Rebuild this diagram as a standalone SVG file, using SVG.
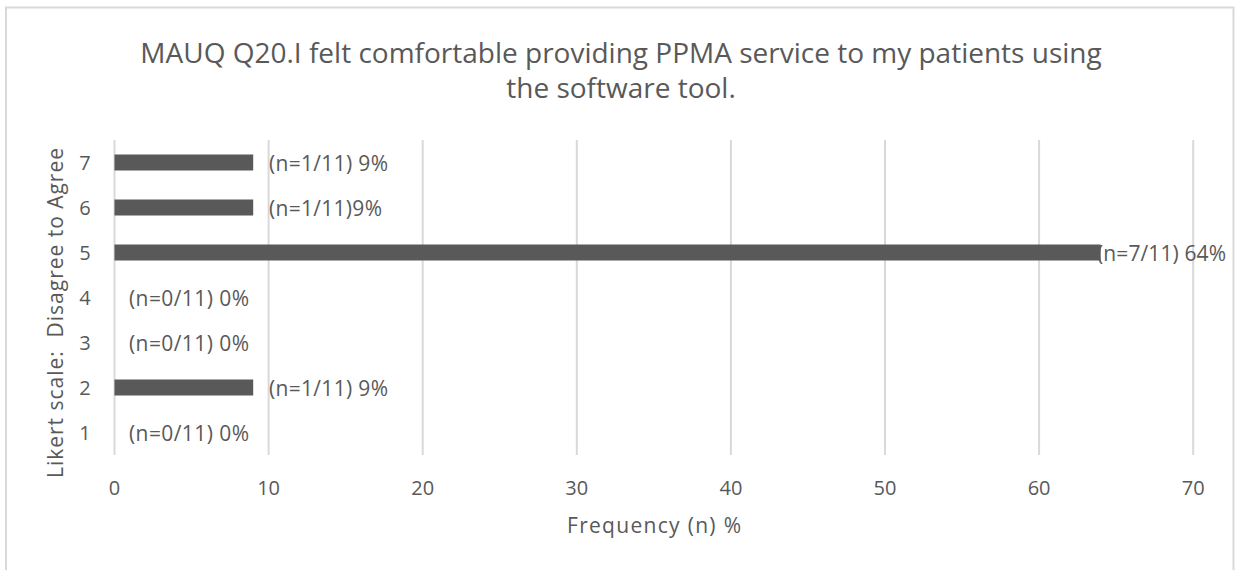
<svg xmlns="http://www.w3.org/2000/svg" width="1235" height="570" viewBox="0 0 1235 570">
<style>
text{font-family:"Open Sans","Liberation Sans",sans-serif;fill:#595959}
.t{font-size:28px}
.a{font-size:20px;dominant-baseline:central}
.l{font-size:21px;dominant-baseline:central}
.g{stroke:#d9d9d9;stroke-width:2}
.b{fill:#595959}
</style>
<rect x="0" y="0" width="1235" height="570" fill="#fff"/>
<rect x="6" y="7.5" width="1227.5" height="570" fill="none" stroke="#d9d9d9" stroke-width="2"/>
<g id="title">
<text class="t" x="621" y="63" text-anchor="middle">MAUQ Q20.I felt comfortable providing PPMA service to my patients using</text>
<text class="t" x="621" y="98" text-anchor="middle">the software tool.</text>
</g>
<g id="grid">
<line class="g" x1="114.5" y1="140" x2="114.5" y2="455"/>
<line class="g" x1="268.6" y1="140" x2="268.6" y2="455"/>
<line class="g" x1="422.7" y1="140" x2="422.7" y2="455"/>
<line class="g" x1="576.8" y1="140" x2="576.8" y2="455"/>
<line class="g" x1="730.9" y1="140" x2="730.9" y2="455"/>
<line class="g" x1="885" y1="140" x2="885" y2="455"/>
<line class="g" x1="1039.1" y1="140" x2="1039.1" y2="455"/>
<line class="g" x1="1193.2" y1="140" x2="1193.2" y2="455"/>
</g>
<g id="x-ticks" text-anchor="middle">
<text class="a" x="114.5" y="487">0</text>
<text class="a" x="268.6" y="487">10</text>
<text class="a" x="422.7" y="487">20</text>
<text class="a" x="576.8" y="487">30</text>
<text class="a" x="730.9" y="487">40</text>
<text class="a" x="885" y="487">50</text>
<text class="a" x="1039.1" y="487">60</text>
<text class="a" x="1193.2" y="487">70</text>
</g>
<g id="y-ticks" text-anchor="middle">
<text class="a" x="85" y="162.5">7</text>
<text class="a" x="85" y="207.5">6</text>
<text class="a" x="85" y="252.5">5</text>
<text class="a" x="85" y="297.5">4</text>
<text class="a" x="85" y="342.5">3</text>
<text class="a" x="85" y="387.5">2</text>
<text class="a" x="85" y="432.5">1</text>
</g>
<g id="bars">
<rect class="b" x="114.5" y="154.5" width="138.7" height="16"/>
<rect class="b" x="114.5" y="199.5" width="138.7" height="16"/>
<rect class="b" x="114.5" y="244.5" width="986.2" height="16"/>
<rect class="b" x="114.5" y="379.5" width="138.7" height="16"/>
</g>
<g id="labels">
<text class="l" x="269" y="162.5" textLength="119">(n=1/11) 9%</text>
<text class="l" x="269" y="207.5" textLength="113">(n=1/11)9%</text>
<text class="l" x="1097" y="252.5" textLength="129">(n=7/11) 64%</text>
<text class="l" x="129" y="297.5" textLength="120">(n=0/11) 0%</text>
<text class="l" x="129" y="342.5" textLength="120">(n=0/11) 0%</text>
<text class="l" x="269" y="387.5" textLength="119">(n=1/11) 9%</text>
<text class="l" x="129" y="432.5" textLength="120">(n=0/11) 0%</text>
</g>
<g id="axis-titles">
<text class="l" x="567" y="525" textLength="174">Frequency (n) %</text>
<text xml:space="preserve" style="font-size:21px" x="0" y="0" textLength="330" transform="translate(63 478) rotate(-90)">Likert scale:  Disagree to Agree</text>
</g>
</svg>
